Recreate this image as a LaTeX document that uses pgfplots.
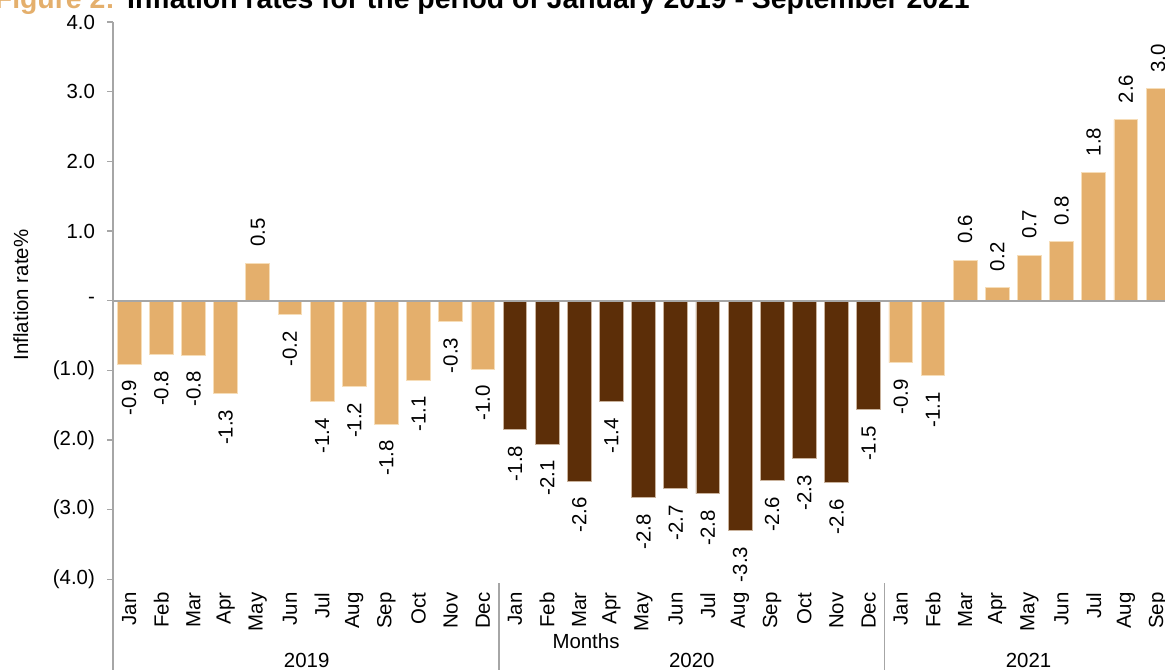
\documentclass[border=0pt]{standalone}
\usepackage{pgfplots}
\pgfplotsset{compat=1.18}
\usepackage{pgfplotstable}
\usepackage{fontspec}
\setmainfont{Liberation Sans}
\definecolor{tan}{HTML}{E4AF6C}
\definecolor{tanedge}{HTML}{F6DDB8}
\definecolor{barbrown}{HTML}{5C2E08}
\definecolor{brownedge}{HTML}{C9B29C}
\definecolor{axgray}{HTML}{A6A6A6}

\pgfplotstableread{
x val lab
0 -0.91 -0.9
1 -0.77 -0.8
2 -0.78 -0.8
3 -1.33 -1.3
4 0.54 0.5
5 -0.20 -0.2
6 -1.45 -1.4
7 -1.23 -1.2
8 -1.77 -1.8
9 -1.14 -1.1
10 -0.30 -0.3
11 -0.98 -1.0
}\dataA
\pgfplotstableread{
x val lab
12 -1.85 -1.8
13 -2.06 -2.1
14 -2.59 -2.6
15 -1.45 -1.4
16 -2.83 -2.8
17 -2.70 -2.7
18 -2.77 -2.8
19 -3.30 -3.3
20 -2.58 -2.6
21 -2.27 -2.3
22 -2.61 -2.6
23 -1.56 -1.5
}\dataB
\pgfplotstableread{
x val lab
24 -0.89 -0.9
25 -1.08 -1.1
26 0.58 0.6
27 0.19 0.2
28 0.65 0.7
29 0.85 0.8
30 1.84 1.8
31 2.60 2.6
32 3.04 3.0
}\dataC

\newcommand{\fs}{\fontsize{20.5}{24}\selectfont}

\begin{document}
\begin{tikzpicture}[x=1bp,y=1bp]
\begin{axis}[
  at={(113.1bp,90.7bp)}, anchor=south west,
  scale only axis, width=1061bp, height=557.3bp,
  xmin=-0.5, xmax=32.5, ymin=-4, ymax=4,
  ybar, bar width=0.74, bar shift=0pt,
  clip=false,
  font=\fs,
  axis lines*=left,
  x axis line style={draw=none},
  y axis line style={axgray, line width=1.5bp},
  xtick={0,...,32},
  xticklabels={Jan,Feb,Mar,Apr,May,Jun,Jul,Aug,Sep,Oct,Nov,Dec,Jan,Feb,Mar,Apr,May,Jun,Jul,Aug,Sep,Oct,Nov,Dec,Jan,Feb,Mar,Apr,May,Jun,Jul,Aug,Sep},
  xtick style={draw=none},
  xticklabel style={rotate=90, anchor=east, inner xsep=7bp, inner ysep=0pt, font=\fs},
  ytick={-4,-3,-2,-1,0,1,2,3,4},
  yticklabels={(4.0),(3.0),(2.0),(1.0),-,1.0,2.0,3.0,4.0},
  ytick style={draw=axgray, line width=1.5bp},
  major tick length=6bp,
  tick align=outside,
  yticklabel style={anchor=east, inner xsep=12bp, inner ysep=0pt, font=\fs},
  nodes near coords,
  point meta=explicit symbolic,
  visualization depends on=rawy\as\rawy,
  nodes near coords style={font=\fs, rotate=90, inner xsep=16bp, inner ysep=0pt,
     anchor={\ifdim\rawy pt<0pt east\else west\fi}},
]
\addplot[fill=tan, draw=tanedge, line width=0.8bp] table[x=x, y=val, meta=lab] {\dataA};
\addplot[fill=barbrown, draw=brownedge, line width=0.8bp] table[x=x, y=val, meta=lab] {\dataB};
\addplot[fill=tan, draw=tanedge, line width=0.8bp] table[x=x, y=val, meta=lab] {\dataC};
\draw[axgray, line width=2bp] (axis cs:-0.5,0) -- (axis cs:32.5,0);
\end{axis}
\draw[axgray, line width=1.5bp] (113.1,0) -- (113.1,91);
\draw[axgray, line width=1.5bp] (498.9,0) -- (498.9,87);
\draw[axgray, line width=1.5bp] (884.7,0) -- (884.7,87);
\node[font=\fs, anchor=base, inner sep=0pt] at (306.7,2) {2019};
\node[font=\fs, anchor=base, inner sep=0pt] at (691.8,2) {2020};
\node[font=\fs, anchor=base, inner sep=0pt] at (1028.5,2) {2021};
\node[font=\fs, anchor=base, inner sep=0pt] at (586,21) {Months};
\node[font=\fs, rotate=90, inner sep=0pt] at (20.7,375) {Inflation rate\%};
\node[anchor=base east, font=\bfseries\fontsize{28.5}{30}\selectfont, text=tan, inner sep=0pt] at (115,661.5) {Figure 2:};
\node[anchor=base west, font=\bfseries\fontsize{28.5}{30}\selectfont, inner sep=0pt] at (127,661.5) {Inflation rates for the period of January 2019 - September 2021};
\pgfresetboundingbox
\useasboundingbox (0,0) rectangle (1165,670);
\end{tikzpicture}
\end{document}
